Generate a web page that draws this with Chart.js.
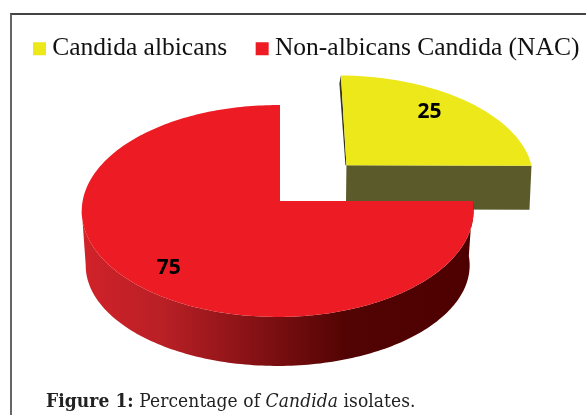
<!DOCTYPE html>
<html>
<head>
<meta charset="utf-8">
<style>
html,body{margin:0;padding:0;background:#fff;width:586px;height:415px;overflow:hidden}
#frame{position:absolute;left:10px;top:13px;width:600px;height:420px;border-left:2px solid #666;border-top:2px solid #444;box-sizing:border-box}
#wrap{position:absolute;left:0;top:0;width:586px;height:415px;overflow:hidden}
#caption{position:absolute;left:46px;top:389px;font:19px "DejaVu Serif Condensed","DejaVu Serif",serif;letter-spacing:0.08px;color:#222;white-space:nowrap}
</style>
<script src="https://cdn.jsdelivr.net/npm/chart.js@4"></script>
</head>
<body>
<div id="frame"></div>
<div id="wrap"><canvas id="c" width="660" height="415"></canvas></div>
<div id="caption"><b>Figure 1:</b> Percentage of <i>Candida</i> isolates.</div>
<script>
const categories = ['Candida albicans', 'Non-albicans Candida (NAC)'];
const percentages = [25, 75];
const topColors = ['#ece81a', '#ed1c24'];
const labelRadii = [0.76, 0.8];
const labelShifts = [-5, -3];
const wallDepths = [44, 55];
const wallTaper = [0.992, 0.98];

// Perspective view of the flat pie: unit-disc coordinates to screen pixels.
const view = { cx: 280, cy: 201, a: 195, b: 105, k: 0.0943, m: -0.012 };
function project(u, v) {
  const w = 1 - view.k * v - view.m * u;
  return { x: view.cx + view.a * u / w, y: view.cy + view.b * v / w };
}
function lower(p, v, depth, taper) {
  return { x: view.cx + (p.x - view.cx) * taper, y: p.y + depth - 6 * Math.max(0, v) };
}

function rimPoints(ox, oy, start, end) {
  const n = Math.max(2, Math.ceil((end - start) / 0.02));
  const out = [];
  for (let i = 0; i <= n; i++) {
    const t = start + (end - start) * i / n;
    const u = ox + Math.cos(t), v = oy + Math.sin(t);
    out.push({ p: project(u, v), v });
  }
  return out;
}
function fillPoly(ctx, pts, fill) {
  ctx.beginPath();
  pts.forEach((p, i) => i ? ctx.lineTo(p.x, p.y) : ctx.moveTo(p.x, p.y));
  ctx.closePath();
  ctx.fillStyle = fill;
  ctx.fill();
}

const pie3d = {
  id: 'pie3d',
  beforeDatasetDraw(chart, args) {
    const ctx = chart.ctx;
    const arcs = args.meta.data;
    arcs.forEach((arc, idx) => {
      const { startAngle, endAngle, outerRadius } = arc.getProps(['startAngle', 'endAngle', 'outerRadius']);
      const mid = (startAngle + endAngle) / 2;
      const off = arc.options.offset / outerRadius;
      const ox = Math.cos(mid) * off, oy = Math.sin(mid) * off;
      const depth = wallDepths[idx];
      const taper = wallTaper[idx];
      const rim = rimPoints(ox, oy, startAngle, endAngle);
      const apex = project(ox, oy);
      const first = rim[0], last = rim[rim.length - 1];
      ctx.save();
      if (idx === 0) {
        // Exploded slice: cut faces only, its curved side points away.
        fillPoly(ctx, [apex, last.p, lower(last.p, last.v, depth, taper), lower(apex, oy, depth, taper)], '#5a5a2a');
        fillPoly(ctx, [apex, first.p, { x: first.p.x - 1.5, y: first.p.y + 8 }, { x: apex.x - 1, y: apex.y }], '#33331a');
      } else {
        // Curved outer wall of the large slice, up to the leftmost rim point.
        let leftmost = 0;
        rim.forEach((r, i) => { if (r.p.x < rim[leftmost].p.x) leftmost = i; });
        const visible = rim.slice(0, leftmost + 1);
        const grad = ctx.createLinearGradient(85, 0, 470, 0);
        grad.addColorStop(0, '#d02229');
        grad.addColorStop(0.2, '#b92026');
        grad.addColorStop(0.68, '#520303');
        grad.addColorStop(1, '#4e0000');
        const up = visible.map(r => r.p);
        const down = visible.map(r => lower(r.p, r.v, depth, taper)).reverse();
        fillPoly(ctx, up.concat(down), grad);
      }
      // Top face of the slice.
      fillPoly(ctx, [apex].concat(rim.map(r => r.p)), arc.options.backgroundColor);
      ctx.restore();
    });
    // Slice values sit on the top faces.
    ctx.save();
    ctx.fillStyle = '#000';
    ctx.font = 'bold 21px "Noto Sans", sans-serif';
    ctx.textAlign = 'center';
    ctx.textBaseline = 'middle';
    arcs.forEach((arc, idx) => {
      const { startAngle, endAngle, outerRadius } = arc.getProps(['startAngle', 'endAngle', 'outerRadius']);
      const mid = (startAngle + endAngle) / 2;
      const off = arc.options.offset / outerRadius;
      const t = mid + labelShifts[idx] * Math.PI / 180;
      const p = project(Math.cos(mid) * off + Math.cos(t) * labelRadii[idx],
                        Math.sin(mid) * off + Math.sin(t) * labelRadii[idx]);
      ctx.fillText(String(percentages[idx]), p.x, p.y);
    });
    ctx.restore();
    return false;
  }
};

new Chart(document.getElementById('c'), {
  type: 'pie',
  data: {
    labels: categories,
    datasets: [{
      data: percentages,
      backgroundColor: topColors,
      borderWidth: 0,
      offset: [48.7, 0]
    }]
  },
  options: {
    responsive: false,
    animation: false,
    layout: { padding: { left: 4.5, top: 1, bottom: 100 } },
    plugins: {
      tooltip: { enabled: false },
      legend: {
        position: 'top',
        align: 'start',
        labels: {
          font: { family: '"Liberation Serif", serif', size: 25.5 },
          color: '#111',
          usePointStyle: true,
          pointStyle: 'rect',
          boxWidth: 0.01,
          boxHeight: 13,
          padding: 35
        }
      }
    }
  },
  plugins: [pie3d]
});
</script>
</body>
</html>
